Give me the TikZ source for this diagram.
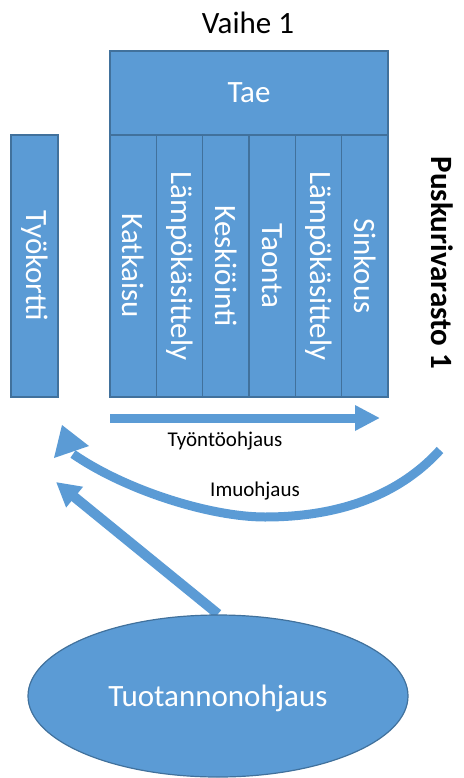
\documentclass[tikz,border=0pt]{standalone}
\usepackage{fontspec}
\setmainfont{Carlito}
\usetikzlibrary{shapes.geometric,arrows.meta}

\definecolor{boxfill}{HTML}{5B9BD5}
\definecolor{boxline}{HTML}{41719C}

\tikzset{
  bigtext/.style={font=\fontsize{31}{37}\selectfont},
  smalltext/.style={font=\fontsize{21}{25}\selectfont, text=black},
  cell/.style={draw=boxline, fill=boxfill, line width=1.5pt, text=white,
    bigtext, inner sep=0pt, outer sep=0pt},
  colcell/.style={cell, rotate=-90, minimum width=262pt, minimum height=46.33pt},
  flowarrow/.style={draw=boxfill, line width=9pt},
}

\begin{document}
\begin{tikzpicture}[x=1pt, y=-1pt]
  \useasboundingbox (0,0) rectangle (463,778);

  % stage title
  \node[bigtext, text=black] (title) at (248,23) {Vaihe 1};

  % raw material header
  \node[cell, minimum width=278pt, minimum height=84pt] (tae) at (249,93) {Tae};

  % process columns
  \node[colcell] (c1) at (133.17,266) {Katkaisu};
  \node[colcell] (c2) at (179.50,266) {Lämpökäsittely};
  \node[colcell] (c3) at (225.83,266) {Keskiöinti};
  \node[colcell] (c4) at (272.17,266) {Taonta};
  \node[colcell] (c5) at (318.50,266) {Lämpökäsittely};
  \node[colcell] (c6) at (364.83,266) {Sinkous};

  % work card
  \node[colcell, minimum height=47pt] (card) at (34.5,266) {Työkortti};

  % buffer storage label
  \node[bigtext, font=\fontsize{31}{37}\selectfont\bfseries, rotate=-90] (buffer) at (442,263) {Puskurivarasto 1};

  % push control arrow
  \coordinate (pushA) at (110,418);
  \coordinate (pushB) at (380,418);
  \draw[flowarrow, -{Triangle[length=25pt,width=24pt]}] (pushA) -- (pushB);
  \node[smalltext] (pushlbl) at (225,441) {Työntöohjaus};

  % pull control arrow
  \coordinate (pullA) at (440,450);
  \coordinate (pullM) at (265,517);
  \coordinate (pullB) at (73,454);
  \draw[draw=boxfill, line width=9pt]
    (pullA) .. controls (390,505) and (320,517) .. (pullM)
            .. controls (210,517) and (125,490) .. (pullB);
  \coordinate (headT) at (62,425);
  \coordinate (headR) at (89,446);
  \coordinate (headL) at (54,458);
  \fill[boxfill] (headT) -- (headR) -- (headL) -- cycle;
  \node[smalltext] (pulllbl) at (255,491) {Imuohjaus};

  % production control
  \coordinate (ctrlTip) at (56,482);
  \coordinate (ctrlBase) at (218,614);
  \draw[flowarrow, line width=10pt, -{Triangle[length=24pt,width=25pt]}] (ctrlBase) -- (ctrlTip);
  \node[ellipse, draw=boxline, fill=boxfill, line width=1.2pt, text=white, bigtext,
        minimum width=380pt, minimum height=162pt, inner sep=0pt] (ctrl) at (218,696) {};
  \node[bigtext, text=white] (ctrltext) at (218,698) {Tuotannonohjaus};
\end{tikzpicture}
\end{document}
